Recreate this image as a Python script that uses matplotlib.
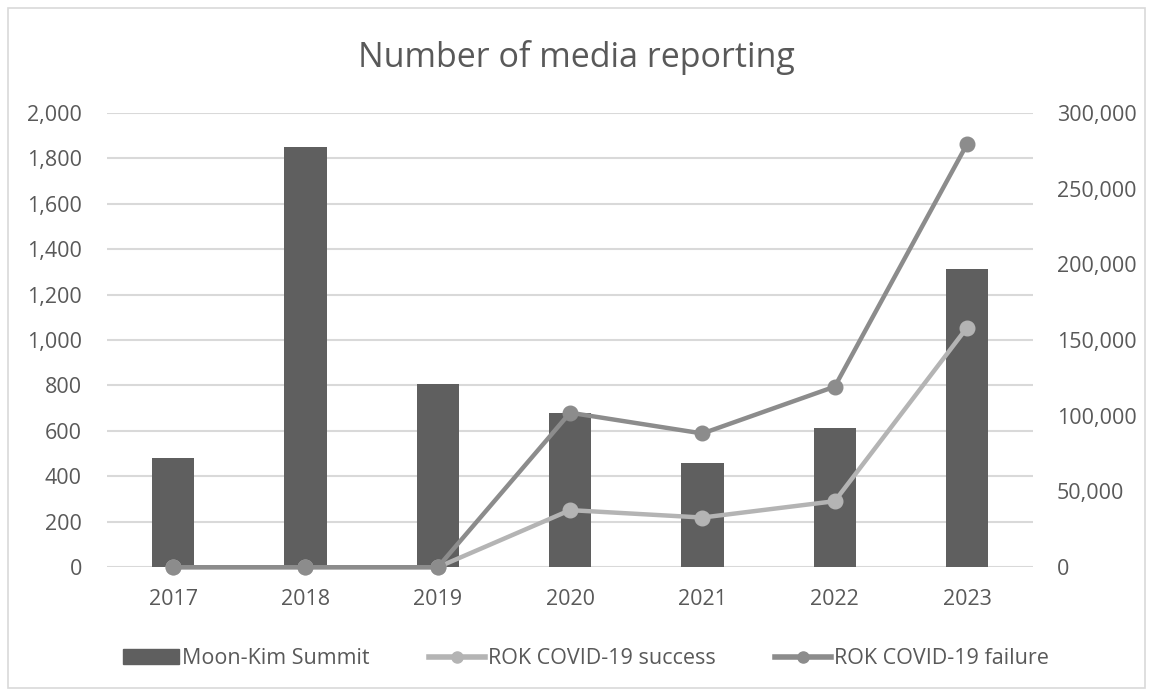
import matplotlib
matplotlib.use("Agg")
import matplotlib.pyplot as plt
from matplotlib.patches import Rectangle
from matplotlib.lines import Line2D
from matplotlib.ticker import FuncFormatter, MultipleLocator

plt.rcParams['font.family'] = ['Open Sans', 'DejaVu Sans']

years = ["2017", "2018", "2019", "2020", "2021", "2022", "2023"]
summit = [480, 1850, 805, 680, 460, 614, 1311]
covid_success = [0, 0, 0, 37700, 32800, 43600, 158200]
covid_failure = [0, 0, 0, 102000, 88300, 119200, 279300]

text_color = "#595959"
bar_color = "#5f5f5f"
success_color = "#b4b4b4"
failure_color = "#8c8c8c"
grid_color = "#d9d9d9"

fig = plt.figure(figsize=(11.53, 6.96), dpi=100)
fig.patches.append(Rectangle((0.007, 0.011), 0.986, 0.978, transform=fig.transFigure,
                             fill=False, edgecolor="#d9d9d9", linewidth=1.2))

ax = fig.add_axes([0.0928, 0.185, 0.8033, 0.653])
ax2 = ax.twinx()

x = list(range(len(years)))
ax.bar(x, summit, width=0.32, color=bar_color, zorder=2)
ax.set_xlim(-0.5, len(years) - 0.5)
ax.set_ylim(0, 2000)
ax.yaxis.set_major_locator(MultipleLocator(200))
ax.yaxis.set_major_formatter(FuncFormatter(lambda v, p: f"{int(v):,}"))
ax.grid(axis="y", color=grid_color, linewidth=1.5, zorder=0)
ax.set_axisbelow(True)

ax2.plot(x, covid_success, color=success_color, linewidth=3.2, marker="o",
         markersize=10.5, zorder=3, clip_on=False)
ax2.plot(x, covid_failure, color=failure_color, linewidth=3.2, marker="o",
         markersize=10.5, zorder=4, clip_on=False)
ax2.set_ylim(0, 300000)
ax2.yaxis.set_major_locator(MultipleLocator(50000))
ax2.yaxis.set_major_formatter(FuncFormatter(lambda v, p: f"{int(v):,}"))

ax.set_xticks(x)
ax.set_xticklabels(years)
for a in (ax, ax2):
    for s in a.spines.values():
        s.set_visible(False)
    a.tick_params(length=0, colors=text_color, labelsize=15.5)
ax.tick_params(axis="y", pad=18)
ax2.tick_params(axis="y", pad=17)
ax.tick_params(axis="x", pad=16)

fig.text(0.5, 0.918, "Number of media reporting", ha="center", va="center",
         fontsize=24.5, color=text_color)

handles = [
    Rectangle((0, 0), 1, 1, color=bar_color),
    Line2D([0], [0], color=success_color, linewidth=4, marker="o", markersize=8),
    Line2D([0], [0], color=failure_color, linewidth=4, marker="o", markersize=8),
]
labels = ["Moon-Kim Summit", "ROK COVID-19 success", "ROK COVID-19 failure"]
fig.legend(handles, labels, loc="center", bbox_to_anchor=(0.508, 0.054), ncol=3,
           frameon=False, fontsize=15.5, labelcolor=text_color, handlelength=2.6,
           handletextpad=0.15, columnspacing=2.75, handleheight=0.65)

fig.savefig("out.png", dpi=100, facecolor="white")
